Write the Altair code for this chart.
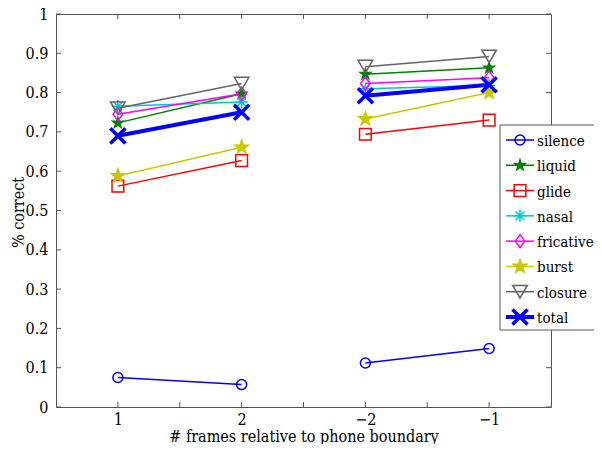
import math
import altair as alt
import pandas as pd

# ---- data ----
series = ["silence", "liquid", "glide", "nasal", "fricative", "burst", "closure", "total"]
x_labels = ["1", "2", "\u22122", "\u22121"]
silence = [0.075, 0.057, 0.112, 0.149]
liquid = [0.723, 0.797, 0.847, 0.863]
glide = [0.562, 0.627, 0.694, 0.730]
nasal = [0.765, 0.776, 0.810, 0.818]
fricative = [0.745, 0.797, 0.823, 0.838]
burst = [0.588, 0.661, 0.733, 0.800]
closure = [0.760, 0.823, 0.866, 0.892]
total = [0.690, 0.750, 0.792, 0.820]
y_ticks = [0, 0.1, 0.2, 0.3, 0.4, 0.5, 0.6, 0.7, 0.8, 0.9, 1]
x_ticks = [1, 1.5, 2, 2.5, 3, 3.5, 4]

values = [silence, liquid, glide, nasal, fricative, burst, closure, total]
rows = []
for s, vals in zip(series, values):
    for i, v in enumerate(vals):
        rows.append({"series": s, "pos": i + 1, "seg": "a" if i < 2 else "b", "value": v})
df = pd.DataFrame(rows)
leg_df = pd.DataFrame({"series": series})
xtick_df = pd.DataFrame({"pos": x_ticks})
ytick_df = pd.DataFrame({"value": y_ticks})

# ---- styles ----
colors = ["#0000ff", "#008000", "#ff0000", "#00c8c8", "#ff00ff", "#c8c800", "#636363", "#0000ff"]
fills = ["transparent", "#008000", "transparent", "transparent", "transparent", "#c8c800", "transparent", "transparent"]

def star_path():
    pts = []
    for k in range(10):
        r = 1.0 if k % 2 == 0 else 0.40
        a = math.radians(-90 + 36 * k)
        pts.append(f"{r*math.cos(a):.3f},{r*math.sin(a):.3f}")
    return "M" + "L".join(pts) + "Z"

STAR = star_path()
ASTER = "M-1,0L1,0M0,-1L0,1M-0.7,-0.7L0.7,0.7M-0.7,0.7L0.7,-0.7"
XMARK = "M-1,-1L1,1M-1,1L1,-1"
DIAM = "M0,-1L0.72,0L0,1L-0.72,0Z"
shapes = ["circle", STAR, "square", ASTER, DIAM, STAR, "triangle-down", XMARK]
sizes = [100, 230, 70, 110, 150, 270, 150, 25]

FONT = "'DejaVu Serif Condensed', 'DejaVu Serif', serif"
FS = 16
W, H = 495, 393
FRAME = "#555555"

xs = alt.Scale(domain=[0.5, 4.5], nice=False, zero=False)
ys = alt.Scale(domain=[0, 1], nice=False, zero=False)
cscale = alt.Scale(domain=series, range=colors)
fscale = alt.Scale(domain=series, range=fills)
shscale = alt.Scale(domain=series, range=shapes)
szscale = alt.Scale(domain=series, range=sizes)

label_expr = "[" + ",".join(f"'{l}'" for l in x_labels) + "][datum.value - 1]"

x_axis = alt.Axis(values=[1, 2, 3, 4], labelExpr=label_expr, labelPadding=4,
                  labelOverlap=False, titleY=29, titleBaseline="middle",
                  labelFont=FONT, titleFont=FONT)
y_axis = alt.Axis(values=y_ticks, format="~g", labelPadding=8, labelOverlap=False,
                  labelBound=False, labelFlush=False, labelFont=FONT, titleFont=FONT,
                  titleX=-38, titleY=198, titleAngle=270, titleBaseline="middle")
XT = "# frames relative to phone boundary"
YT = "% correct"
X = alt.X("pos:Q", scale=xs, title=XT, axis=x_axis)
Y = alt.Y("value:Q", scale=ys, title=YT, axis=y_axis)

base = alt.Chart(df)
line_enc = dict(x=X, y=Y, detail="seg:N",
                color=alt.Color("series:N", scale=cscale, legend=None))
pt_enc = dict(x=X, y=Y,
              stroke=alt.Stroke("series:N", scale=cscale, legend=None),
              fill=alt.Fill("series:N", scale=fscale, legend=None),
              shape=alt.Shape("series:N", scale=shscale, legend=None),
              size=alt.Size("series:N", scale=szscale, legend=None))

lines_n = base.transform_filter("datum.series != 'total'").mark_line(strokeWidth=1.5).encode(**line_enc)
pts_n = base.transform_filter("datum.series != 'total'").mark_point(filled=True, opacity=1, strokeWidth=1.5).encode(**pt_enc)
lines_t = base.transform_filter("datum.series == 'total'").mark_line(strokeWidth=4).encode(**line_enc)
pts_t = base.transform_filter("datum.series == 'total'").mark_point(filled=True, opacity=1, strokeWidth=3.5).encode(**pt_enc)

# inward tick marks (MATLAB style box)
tl = alt.Chart(ytick_df).mark_rule(color=FRAME, strokeWidth=1).encode(y=Y, x=alt.value(0), x2=alt.value(5))
tr = alt.Chart(ytick_df).mark_rule(color=FRAME, strokeWidth=1).encode(y=Y, x=alt.value(W - 5), x2=alt.value(W))
tb = alt.Chart(xtick_df).mark_rule(color=FRAME, strokeWidth=1).encode(x=X, y=alt.value(H - 5), y2=alt.value(H))
tt = alt.Chart(xtick_df).mark_rule(color=FRAME, strokeWidth=1).encode(x=X, y=alt.value(0), y2=alt.value(5))

main = alt.layer(lines_n, pts_n, lines_t, pts_t, tl, tr, tb, tt)

# ---- legend ----
LX, LY0, LY1 = 444, 111, 316
ly = alt.Y("series:N", scale=alt.Scale(type="point", domain=series, range=[126, 303], padding=0), axis=None)
lb = alt.Chart(leg_df)
leg_box = alt.Chart(pd.DataFrame({"a": [0]})).mark_rect(fill="white", stroke=FRAME, strokeWidth=1).encode(
    x=alt.value(LX), x2=alt.value(LX + 160), y=alt.value(LY0), y2=alt.value(LY1))
leg_rule_n = lb.transform_filter("datum.series != 'total'").mark_rule(strokeWidth=1.5).encode(
    x=alt.value(LX + 6), x2=alt.value(LX + 34), y=ly, color=alt.Color("series:N", scale=cscale, legend=None))
leg_rule_t = lb.transform_filter("datum.series == 'total'").mark_rule(strokeWidth=4).encode(
    x=alt.value(LX + 6), x2=alt.value(LX + 34), y=ly, color=alt.Color("series:N", scale=cscale, legend=None))
leg_pt_n = lb.transform_filter("datum.series != 'total'").mark_point(filled=True, opacity=1, strokeWidth=1.5).encode(
    x=alt.value(LX + 20), y=ly,
    stroke=alt.Stroke("series:N", scale=cscale, legend=None),
    fill=alt.Fill("series:N", scale=fscale, legend=None),
    shape=alt.Shape("series:N", scale=shscale, legend=None),
    size=alt.Size("series:N", scale=szscale, legend=None))
leg_pt_t = lb.transform_filter("datum.series == 'total'").mark_point(filled=True, opacity=1, strokeWidth=3.5).encode(
    x=alt.value(LX + 20), y=ly,
    stroke=alt.Stroke("series:N", scale=cscale, legend=None),
    fill=alt.Fill("series:N", scale=fscale, legend=None),
    shape=alt.Shape("series:N", scale=shscale, legend=None),
    size=alt.Size("series:N", scale=szscale, legend=None))
leg_text = lb.mark_text(align="left", baseline="middle", font=FONT, fontSize=15, color="black", dy=1).encode(
    x=alt.value(LX + 37), y=ly, text="series:N")

legend = alt.layer(leg_box, leg_rule_n, leg_rule_t, leg_pt_n, leg_pt_t, leg_text)

chart = alt.layer(main, legend).resolve_scale(y="independent").properties(
    width=W, height=H,
    padding={"left": 48, "top": 6, "right": 43, "bottom": 37},
    autosize=alt.AutoSizeParams(type="none"),
).configure_view(stroke=FRAME, strokeWidth=1).configure_axis(
    labelFontSize=FS, labelColor="black",
    titleFontSize=FS, titleFontWeight="normal", titleColor="black",
    ticks=False, domain=False, grid=False,
)

chart.save("out.html", embed_options={"renderer": "svg", "actions": False})
